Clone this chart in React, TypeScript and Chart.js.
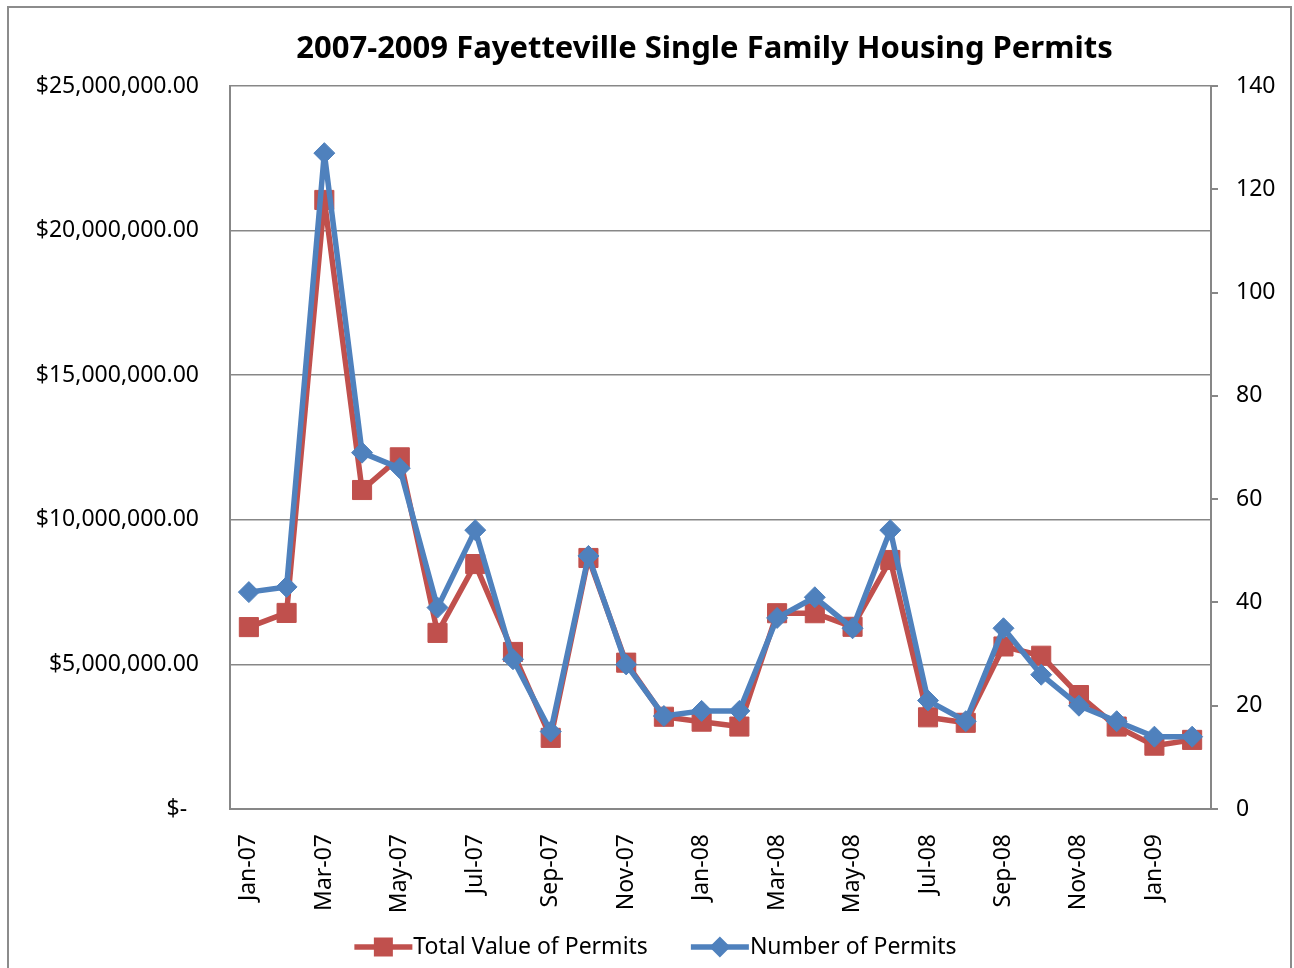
import React, { useEffect, useRef } from "react";
import { Chart, registerables } from "chart.js";

Chart.register(...registerables);

const months = [
  "Jan-07", "Feb-07", "Mar-07", "Apr-07", "May-07", "Jun-07", "Jul-07", "Aug-07", "Sep-07", "Oct-07", "Nov-07", "Dec-07",
  "Jan-08", "Feb-08", "Mar-08", "Apr-08", "May-08", "Jun-08", "Jul-08", "Aug-08", "Sep-08", "Oct-08", "Nov-08", "Dec-08",
  "Jan-09", "Feb-09",
];

const totalValue = [
  6290000, 6780000, 21060000, 11030000, 12160000, 6090000, 8470000, 5430000, 2460000, 8680000, 5060000, 3190000,
  3020000, 2850000, 6770000, 6770000, 6300000, 8610000, 3170000, 2980000, 5620000, 5300000, 3940000, 2850000,
  2190000, 2390000,
];

const numberOfPermits = [
  42, 43, 127, 69, 66, 39, 54, 29, 15, 49, 28, 18,
  19, 19, 37, 41, 35, 54, 21, 17, 35, 26, 20, 17,
  14, 14,
];

const leftTicksMax = 25000000;
const leftStep = 5000000;
const rightTicksMax = 140;
const rightStep = 20;

const TITLE = "2007-2009 Fayetteville Single Family Housing Permits";
const RED = "#C0504D";
const BLUE = "#4F81BD";
const GRID = "#878787";
const FONT = "'Noto Sans', sans-serif";
const TICK_SIZE = 23;

const legendItems = [
  { label: "Total Value of Permits", color: RED, style: "square" },
  { label: "Number of Permits", color: BLUE, style: "diamond" },
];

const titlePlugin = {
  id: "excelTitle",
  afterDraw(chart: any) {
    const ctx = chart.ctx;
    const area = chart.chartArea;
    ctx.save();
    ctx.font = `bold 31px ${FONT}`;
    ctx.fillStyle = "#000";
    ctx.textAlign = "center";
    ctx.textBaseline = "middle";
    ctx.fillText(TITLE, (area.left + area.right) / 2 - 16, 49);
    ctx.restore();
  },
};

const legendPlugin = {
  id: "excelLegend",
  afterDraw(chart: any) {
    const ctx = chart.ctx;
    ctx.save();
    ctx.font = `${TICK_SIZE}px ${FONT}`;
    ctx.textBaseline = "middle";
    ctx.textAlign = "left";
    const lineLen = 58;
    const gap = 44;
    const widths = legendItems.map((it) => lineLen + ctx.measureText(it.label).width);
    const total = widths.reduce((a, b) => a + b, 0) + gap * (legendItems.length - 1);
    let x = chart.width / 2 + 8 - total / 2;
    const y = 947;
    legendItems.forEach((it, i) => {
      ctx.strokeStyle = it.color;
      ctx.fillStyle = it.color;
      ctx.lineWidth = 5.5;
      ctx.beginPath();
      ctx.moveTo(x, y);
      ctx.lineTo(x + lineLen, y);
      ctx.stroke();
      const cx = x + lineLen / 2;
      ctx.beginPath();
      if (it.style === "square") {
        ctx.rect(cx - 9.5, y - 9.5, 19, 19);
      } else {
        ctx.moveTo(cx, y - 10.5);
        ctx.lineTo(cx + 10.5, y);
        ctx.lineTo(cx, y + 10.5);
        ctx.lineTo(cx - 10.5, y);
        ctx.closePath();
      }
      ctx.fill();
      ctx.fillStyle = "#000";
      ctx.fillText(it.label, x + lineLen + 1, y);
      x += widths[i] + gap;
    });
    ctx.restore();
  },
};

function formatMoney(v: number) {
  if (v === 0) return "$-  ";
  return "$" + v.toLocaleString("en-US", { minimumFractionDigits: 2, maximumFractionDigits: 2 });
}

export default function App() {
  const canvasRef = useRef<HTMLCanvasElement | null>(null);

  useEffect(() => {
    if (!canvasRef.current) return;
    Chart.defaults.color = "#000";
    Chart.defaults.font.family = FONT;
    const chart = new Chart(canvasRef.current, {
      type: "line",
      data: {
        labels: months,
        datasets: [
          {
            label: "Total Value of Permits",
            data: totalValue,
            yAxisID: "y",
            borderColor: RED,
            backgroundColor: RED,
            borderWidth: 5.5,
            borderJoinStyle: "round",
            pointStyle: "rect",
            pointRadius: 13.5,
            pointBorderWidth: 1,
            pointBackgroundColor: RED,
            pointBorderColor: RED,
            tension: 0,
            order: 1,
          },
          {
            label: "Number of Permits",
            data: numberOfPermits,
            yAxisID: "y1",
            borderColor: BLUE,
            backgroundColor: BLUE,
            borderWidth: 5.5,
            borderJoinStyle: "round",
            pointStyle: "rectRot",
            pointRadius: 10.5,
            pointBorderWidth: 1,
            pointBackgroundColor: BLUE,
            pointBorderColor: BLUE,
            tension: 0,
            order: 0,
          },
        ],
      },
      options: {
        responsive: false,
        animation: false,
        layout: { padding: { left: 0, right: 0, top: 86, bottom: 0 } },
        plugins: {
          legend: { display: false },
          tooltip: { enabled: false },
          title: { display: false },
        },
        scales: {
          x: {
            offset: true,
            grid: { display: false, drawTicks: false },
            border: { display: true, color: GRID, width: 2 },
            ticks: {
              autoSkip: false,
              maxRotation: 90,
              minRotation: 90,
              padding: 25,
              font: { size: TICK_SIZE, family: FONT },
              color: "#000",
              callback: (_v: any, i: number) => (i % 2 === 0 ? months[i] : ""),
            },
            afterFit: (s: any) => {
              s.height = 159;
            },
          },
          y: {
            position: "left",
            min: 0,
            max: leftTicksMax,
            grid: { color: GRID, lineWidth: 1.5, drawTicks: false },
            border: { display: true, color: GRID, width: 2 },
            ticks: {
              stepSize: leftStep,
              padding: 31,
              font: { size: TICK_SIZE, family: FONT },
              color: "#000",
              callback: (v: any) => formatMoney(Number(v)),
            },
            afterFit: (s: any) => {
              s.width = 230;
            },
          },
          y1: {
            position: "right",
            min: 0,
            max: rightTicksMax,
            grid: { drawOnChartArea: false, drawTicks: true, tickLength: 7, color: GRID, lineWidth: 2 },
            border: { display: true, color: GRID, width: 2 },
            ticks: {
              stepSize: rightStep,
              padding: 18,
              font: { size: TICK_SIZE, family: FONT },
              color: "#000",
            },
            afterFit: (s: any) => {
              s.width = 83;
            },
          },
        },
      },
      plugins: [titlePlugin, legendPlugin],
    } as any);
    return () => chart.destroy();
  }, []);

  return (
    <>
      <div
        style={{
          position: "fixed",
          left: 7,
          top: 6,
          width: 1285,
          height: 1000,
          border: "2px solid #8c8c8c",
          boxSizing: "border-box",
          pointerEvents: "none",
        }}
      />
      <canvas
        ref={canvasRef}
        width={1294}
        height={968}
        style={{ position: "fixed", left: 0, top: 0 }}
      />
    </>
  );
}
